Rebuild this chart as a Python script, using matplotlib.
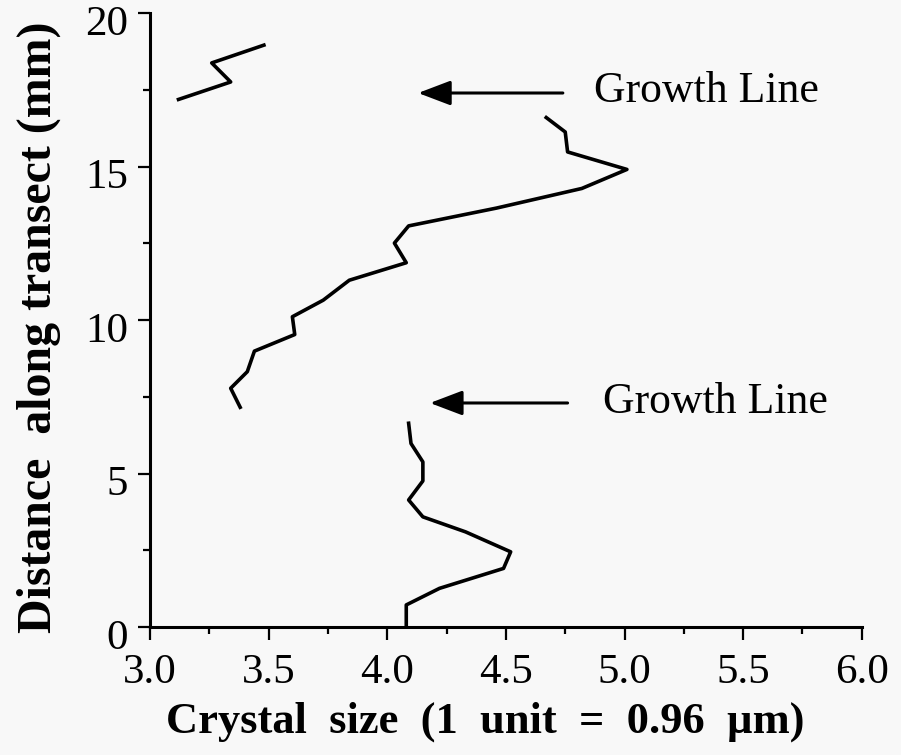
import matplotlib.pyplot as plt
from matplotlib.ticker import MultipleLocator
from matplotlib.transforms import ScaledTranslation

plt.rcParams['font.family'] = ['Liberation Serif', 'DejaVu Serif']

# crystal size profile along the transect, three separate runs
size_top = [3.12, 3.34, 3.26, 3.48]
dist_top = [17.19, 17.76, 18.38, 18.96]

size_mid = [3.38, 3.34, 3.41, 3.44, 3.61, 3.60, 3.73, 3.84, 4.08, 4.03,
            4.09, 4.46, 4.82, 5.01, 4.76, 4.75, 4.67]
dist_mid = [7.16, 7.78, 8.32, 8.99, 9.53, 10.11, 10.65, 11.30, 11.87, 12.51,
            13.07, 13.65, 14.29, 14.91, 15.48, 16.13, 16.60]

size_low = [4.08, 4.08, 4.22, 4.49, 4.52, 4.33, 4.15, 4.09, 4.15, 4.15,
            4.10, 4.09]
dist_low = [0.0, 0.72, 1.26, 1.91, 2.45, 3.10, 3.59, 4.14, 4.76, 5.38,
            5.98, 6.64]

# growth line markers: arrow tip, arrow tail, label position
growth_tips = [(4.13, 17.40), (4.18, 7.30)]
growth_tails = [(4.74, 17.40), (4.76, 7.30)]
growth_text = [(4.87, 17.45), (4.91, 7.32)]

fig = plt.figure(figsize=(9.01, 7.55), dpi=100, facecolor='#f8f8f8')
ax = fig.add_axes([0.1665, 0.1695, 0.79, 0.813])
ax.set_facecolor('#f8f8f8')

for xs, ys in [(size_top, dist_top), (size_mid, dist_mid), (size_low, dist_low)]:
    ax.plot(xs, ys, color='black', lw=2.6, clip_on=False)

for tip, tail, txt in zip(growth_tips, growth_tails, growth_text):
    ax.annotate('', xy=tip, xytext=tail,
                arrowprops=dict(arrowstyle='-|>,head_length=1.0,head_width=0.38',
                                mutation_scale=20, lw=2.2, color='black',
                                shrinkA=0, shrinkB=0))
    ax.text(txt[0], txt[1], 'Growth Line', fontsize=31.5, va='center', ha='left')

ax.set_xlim(3.0, 6.0)
ax.set_ylim(0, 20)
ax.xaxis.set_major_locator(MultipleLocator(0.5))
ax.xaxis.set_minor_locator(MultipleLocator(0.25))
ax.yaxis.set_major_locator(MultipleLocator(5))
ax.yaxis.set_minor_locator(MultipleLocator(2.5))
ax.xaxis.set_major_formatter(plt.FormatStrFormatter('%.1f'))

for side in ['top', 'right']:
    ax.spines[side].set_visible(False)
for side in ['left', 'bottom']:
    ax.spines[side].set_linewidth(2.2)

ax.tick_params(which='major', length=9, width=1.6, labelsize=31)
ax.tick_params(axis='x', which='major', pad=10)
ax.tick_params(axis='y', which='major', pad=7)
ax.tick_params(which='minor', length=5, width=1.6)

# y tick labels sit a little below their ticks
shift = ScaledTranslation(0, -0.07, fig.dpi_scale_trans)
for lab in ax.get_yticklabels():
    lab.set_transform(lab.get_transform() + shift)

ax.set_xlabel('Crystal  size  (1  unit  =  0.96  µm)', fontsize=32,
              fontweight='bold')
ax.xaxis.set_label_coords(0.4705, -0.122)
ax.set_ylabel('Distance  along transect (mm)', fontsize=34.5, fontweight='bold')
ax.yaxis.set_label_coords(-0.125, 0.4886)

fig.savefig('out.png', dpi=100, facecolor=fig.get_facecolor())
